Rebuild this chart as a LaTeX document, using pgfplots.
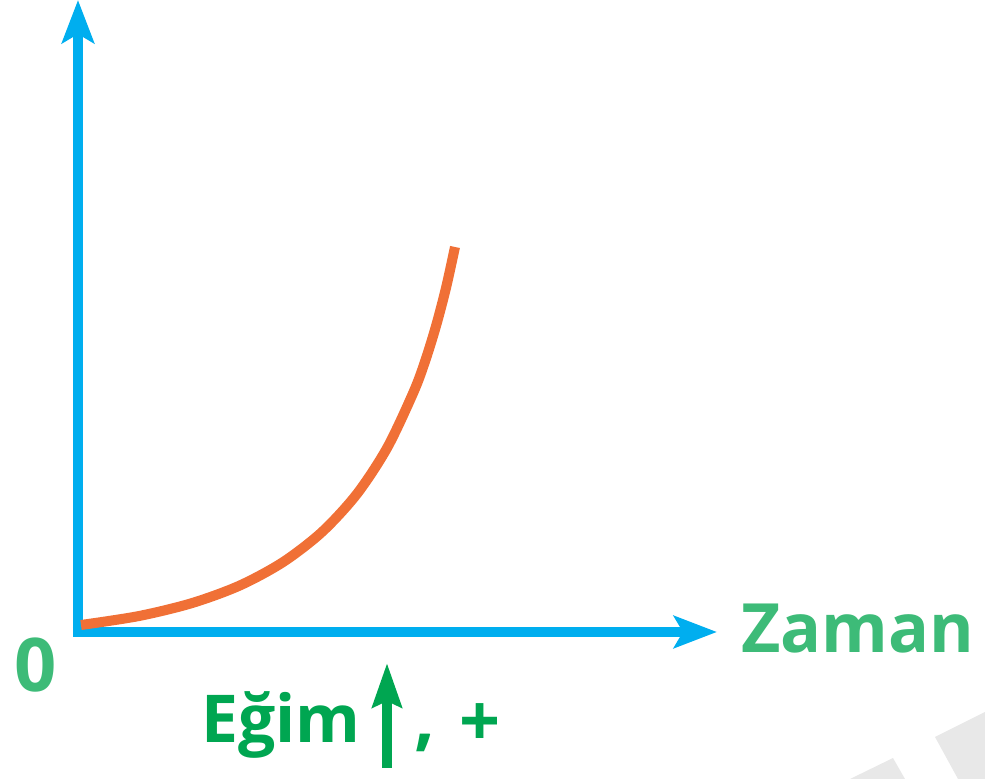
\documentclass[border=0pt]{standalone}
\usepackage{fontspec}
\setmainfont{Open Sans}
\usepackage{pgfplots}
\pgfplotsset{compat=1.18}
\usetikzlibrary{arrows.meta}
\definecolor{axblue}{HTML}{00AEEF}
\definecolor{curveor}{HTML}{F07036}
\definecolor{greenL}{HTML}{3DBB78}
\definecolor{greenD}{HTML}{00A651}
\definecolor{wmgray}{HTML}{E8E8E8}
\begin{document}
\begin{tikzpicture}
\begin{axis}[
  scale only axis,
  width=319.5pt, height=316pt,
  xmin=0, xmax=639, ymin=0, ymax=632,
  axis lines=left,
  axis line style={line width=5pt, color=axblue, shorten <=-2.5pt,
    -{Stealth[length=21.5pt,width=16pt,inset=4.5pt]}},
  xtick=\empty, ytick=\empty,
  clip=false,
]
\fill[wmgray] (axis cs:772,-147) -- (axis cs:815,-126) -- (axis cs:827,-147) -- cycle;
\fill[wmgray] (axis cs:857,-105) -- (axis cs:907,-80) -- (axis cs:907,-147) -- (axis cs:880,-147) -- cycle;
\addplot[color=curveor, line width=5pt, smooth, no markers] coordinates {
  (3,7) (60.6,15.9) (113.3,28.7) (161.4,46.3) (204.9,69.8) (244.0,100.0)
  (278.8,137.9) (309.3,184.4) (335.8,240.5) (347.6,272.3) (358.3,307.0)
  (368.1,344.5) (377,385)
};
\node[anchor=center, text=greenL, font=\fontsize{37}{44}\selectfont\bfseries, inner sep=0pt] at (axis cs:-42,-33) {0};
\node[anchor=base west, text=greenL, font=\fontsize{34}{40}\selectfont\bfseries, inner sep=0pt] at (axis cs:663,-21) {Zaman};
\node[anchor=base west, text=greenD, font=\fontsize{33}{40}\selectfont\bfseries, inner sep=0pt] at (axis cs:123,-111) {Eğim};
\draw[greenD, line width=5pt, -{Stealth[length=22pt,width=14.5pt,inset=3pt]}] (axis cs:309,-136) -- (axis cs:309,-31);
\node[anchor=base west, text=greenD, font=\fontsize{36}{40}\selectfont\bfseries, inner sep=0pt] at (axis cs:336,-111) {,};
\node[anchor=center, text=greenD, font=\fontsize{36}{40}\selectfont\bfseries, inner sep=0pt] at (axis cs:402,-93) {+};
\coordinate (bbsw) at (axis cs:-78,-147);
\coordinate (bbne) at (axis cs:907,632);
\end{axis}
\pgfresetboundingbox
\path (bbsw) rectangle (bbne);
\end{tikzpicture}
\end{document}
